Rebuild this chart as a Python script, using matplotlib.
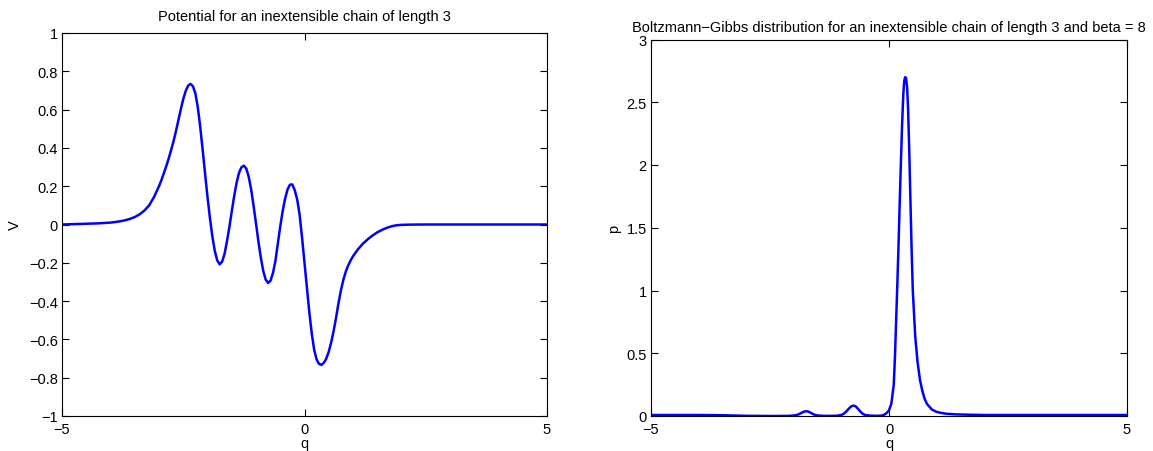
import matplotlib
matplotlib.use("Agg")
import matplotlib.pyplot as plt

plt.rcParams['font.family'] = ['Liberation Sans', 'DejaVu Sans']

# Potential V(q) of the chain
q_pot = [-5.0, -4.75, -4.5, -4.25, -4.0, -3.9, -3.8, -3.7, -3.6, -3.5, -3.4, -3.3,
         -3.2, -3.1, -3.0, -2.95, -2.9, -2.85, -2.8, -2.75, -2.7, -2.65, -2.6,
         -2.55, -2.5, -2.45, -2.4, -2.35, -2.3, -2.25, -2.2, -2.15, -2.1, -2.05,
         -2.0, -1.95, -1.9, -1.85, -1.8, -1.75, -1.7, -1.65, -1.6, -1.55, -1.5,
         -1.45, -1.4, -1.35, -1.3, -1.25, -1.2, -1.15, -1.1, -1.05, -1.0, -0.95,
         -0.9, -0.85, -0.8, -0.75, -0.7, -0.65, -0.6, -0.55, -0.5, -0.45, -0.4,
         -0.35, -0.3, -0.25, -0.2, -0.15, -0.1, -0.05, 0.0, 0.05, 0.1, 0.15, 0.2,
         0.25, 0.3, 0.35, 0.4, 0.45, 0.5, 0.55, 0.6, 0.65, 0.7, 0.75, 0.8, 0.85,
         0.9, 0.95, 1.0, 1.1, 1.2, 1.3, 1.4, 1.5, 1.6, 1.7, 1.8, 1.9, 2.0, 2.2,
         2.5, 5.0]
V_pot = [0.000, 0.002, 0.004, 0.006, 0.010, 0.013, 0.017, 0.022, 0.029, 0.039,
         0.053, 0.073, 0.101, 0.145, 0.200, 0.232, 0.268, 0.305, 0.345, 0.389,
         0.435, 0.488, 0.545, 0.602, 0.655, 0.697, 0.725, 0.734, 0.722, 0.685,
         0.612, 0.510, 0.390, 0.265, 0.144, 0.034, -0.062, -0.138, -0.187, -0.208,
         -0.195, -0.155, -0.090, -0.015, 0.068, 0.148, 0.218, 0.270, 0.299, 0.307,
         0.292, 0.249, 0.183, 0.098, 0.005, -0.089, -0.174, -0.243, -0.288, -0.305,
         -0.293, -0.253, -0.191, -0.100, -0.010, 0.070, 0.135, 0.183, 0.208, 0.209,
         0.178, 0.130, 0.050, -0.070, -0.200, -0.330, -0.460, -0.570, -0.655,
         -0.705, -0.728, -0.733, -0.722, -0.700, -0.664, -0.616, -0.557, -0.488,
         -0.412, -0.345, -0.290, -0.247, -0.214, -0.188, -0.166, -0.130, -0.101,
         -0.078, -0.058, -0.041, -0.028, -0.017, -0.009, -0.004, -0.002, -0.0005,
         0.0, 0.0]

# Boltzmann-Gibbs density p(q) at beta = 8
q_bg = [-5.0, -4.0, -3.5, -3.0, -2.6, -2.36, -2.1, -2.0, -1.95, -1.9, -1.85, -1.8,
        -1.75, -1.7, -1.65, -1.6, -1.55, -1.5, -1.4, -1.26, -1.1, -1.0, -0.95,
        -0.9, -0.85, -0.8, -0.75, -0.7, -0.65, -0.6, -0.55, -0.5, -0.4, -0.28,
        -0.15, -0.1, -0.05, 0.0, 0.05, 0.1, 0.125, 0.15, 0.175, 0.2, 0.225, 0.25,
        0.275, 0.3, 0.32, 0.34, 0.36, 0.38, 0.4, 0.425, 0.45, 0.475, 0.5, 0.55,
        0.6, 0.65, 0.7, 0.75, 0.8, 0.9, 1.0, 1.1, 1.2, 1.4, 1.7, 2.0, 5.0]
p_bg = [0.008, 0.008, 0.006, 0.0015, 0.0003, 0.0002, 0.001, 0.004, 0.007, 0.013,
        0.023, 0.032, 0.038, 0.036, 0.027, 0.016, 0.008, 0.004, 0.0015, 0.001,
        0.002, 0.008, 0.018, 0.035, 0.056, 0.075, 0.083, 0.077, 0.057, 0.034,
        0.017, 0.008, 0.003, 0.0015, 0.003, 0.01, 0.024, 0.045, 0.10, 0.25, 0.47,
        0.76, 1.05, 1.36, 1.70, 2.02, 2.32, 2.56, 2.67, 2.70, 2.69, 2.62, 2.46,
        2.12, 1.72, 1.33, 1.00, 0.64, 0.43, 0.29, 0.20, 0.135, 0.095, 0.052,
        0.033, 0.024, 0.018, 0.013, 0.010, 0.008, 0.008]

x_ticks = [-5, 0, 5]
V_ticks = [-1, -0.8, -0.6, -0.4, -0.2, 0, 0.2, 0.4, 0.6, 0.8, 1]
p_ticks = [0, 0.5, 1, 1.5, 2, 2.5, 3]

W, H = 1153, 452
fig = plt.figure(figsize=(W / 100, H / 100), dpi=100)

def place(l, t, r, b):
    return fig.add_axes([l / W, 1 - b / H, (r - l) / W, (b - t) / H])

ax1 = place(62, 34, 547, 417)
ax2 = place(651, 40.5, 1127, 417)

FS = 10.5

def style(ax):
    ax.tick_params(direction='in', top=True, right=True, length=5, width=0.8,
                   labelsize=FS, color='black')
    ax.tick_params(axis='x', pad=4)
    ax.tick_params(axis='y', pad=3)
    for s in ax.spines.values():
        s.set_linewidth(0.8)
        s.set_color('black')

ax1.plot(q_pot, V_pot, color='#0000ff', lw=1.8)
ax1.set_xlim(-5, 5)
ax1.set_ylim(-1, 1)
ax1.set_xticks(x_ticks)
ax1.set_yticks(V_ticks)
ax1.set_yticklabels(['\u22121', '\u22120.8', '\u22120.6', '\u22120.4', '\u22120.2', '0',
                     '0.2', '0.4', '0.6', '0.8', '1'])
ax1.set_xticklabels(['\u22125', '0', '5'])
ax1.set_xlabel('q', fontsize=FS, labelpad=0)
ax1.set_ylabel('V', fontsize=FS, labelpad=5)
ax1.set_title('Potential for an inextensible chain of length 3', fontsize=FS, pad=9)
style(ax1)

ax2.plot(q_bg, p_bg, color='#0000ff', lw=1.8)
ax2.set_xlim(-5, 5)
ax2.set_ylim(0, 3)
ax2.set_xticks(x_ticks)
ax2.set_yticks(p_ticks)
ax2.set_yticklabels(['0', '0.5', '1', '1.5', '2', '2.5', '3'])
ax2.set_xticklabels(['\u22125', '0', '5'])
ax2.set_xlabel('q', fontsize=FS, labelpad=0)
ax2.set_ylabel('p', fontsize=FS, labelpad=4)
ax2.set_title('Boltzmann\u2212Gibbs distribution for an inextensible chain of length 3 and beta = 8',
              fontsize=FS, pad=6)
style(ax2)

fig.savefig('out.png', dpi=100)
